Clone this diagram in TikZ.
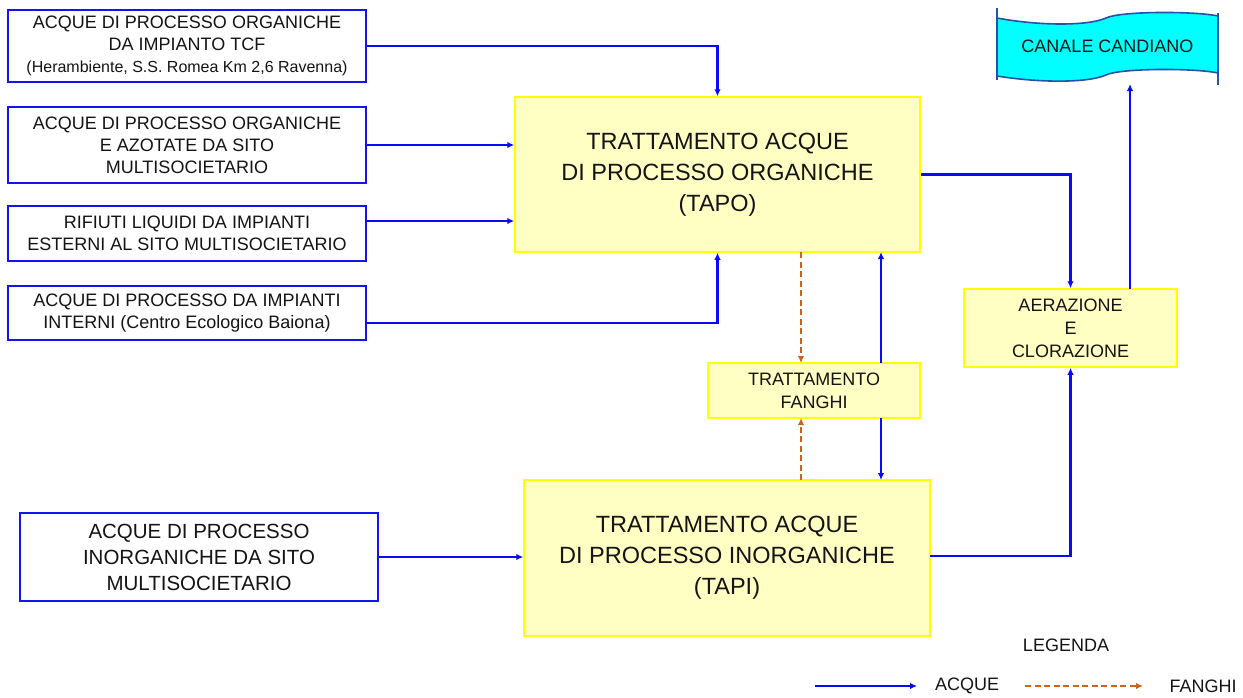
\documentclass[tikz,border=0pt]{standalone}
\usepackage{fontspec}
\setmainfont{Liberation Sans}
\usetikzlibrary{arrows.meta}
\definecolor{boxblue}{RGB}{20,20,240}
\definecolor{flowblue}{RGB}{10,10,250}
\definecolor{yfill}{RGB}{255,255,196}
\definecolor{yline}{RGB}{255,255,0}
\definecolor{sludge}{RGB}{200,100,30}
\definecolor{canalfill}{RGB}{0,255,255}
\definecolor{canalline}{RGB}{40,80,170}
\definecolor{txt}{RGB}{20,20,20}
\tikzset{
  srcbox/.style={draw=boxblue, line width=2.2pt, fill=white, inner sep=0pt, align=center, text=txt,
    font=\fontsize{18}{22}\selectfont},
  procbox/.style={draw=yline, line width=1.5pt, fill=yfill, inner sep=0pt, align=center, text=txt,
    font=\fontsize{18}{23}\selectfont},
  bigbox/.style={procbox, font=\fontsize{23.5}{31}\selectfont},
  water/.style={draw=flowblue, line width=2.3pt, -{Latex[length=7pt,width=6.5pt]}},
  sludgeflow/.style={draw=sludge, line width=2pt, dash pattern=on 6pt off 3.5pt, -{Latex[length=7pt,width=6.5pt]}},
  lbl/.style={text=txt, font=\fontsize{18}{22}\selectfont, inner sep=0pt}
}
\begin{document}
\begin{tikzpicture}[x=1pt,y=-1pt]
\useasboundingbox (0,0) rectangle (1243,697);

% source boxes
\node[srcbox, minimum width=358, minimum height=72] (b1) at (187,46)
  {ACQUE DI PROCESSO ORGANICHE\\DA IMPIANTO TCF\\{\fontsize{16}{20}\selectfont (Herambiente, S.S. Romea Km 2,6 Ravenna)}};
\node[srcbox, minimum width=358, minimum height=76] (b2) at (187,145)
  {ACQUE DI PROCESSO ORGANICHE\\E AZOTATE DA SITO\\MULTISOCIETARIO};
\node[srcbox, minimum width=358, minimum height=55] (b3) at (187,233.5)
  {RIFIUTI LIQUIDI DA IMPIANTI\\ESTERNI AL SITO MULTISOCIETARIO};
\node[srcbox, minimum width=358, minimum height=54] (b4) at (187,313)
  {ACQUE DI PROCESSO DA IMPIANTI\\INTERNI (Centro Ecologico Baiona)};
\node[srcbox, minimum width=358, minimum height=88, font=\fontsize{20.5}{26}\selectfont] (b5) at (199,557)
  {ACQUE DI PROCESSO\\INORGANICHE DA SITO\\MULTISOCIETARIO};

% process boxes
\node[bigbox, minimum width=405, minimum height=155] (tapo) at (717.5,174.5)
  {TRATTAMENTO ACQUE\\DI PROCESSO ORGANICHE\\(TAPO)};
\node[bigbox, minimum width=406, minimum height=156] (tapi) at (727,558)
  {TRATTAMENTO ACQUE\\DI PROCESSO INORGANICHE\\(TAPI)};
\node[procbox, minimum width=212, minimum height=55] (fan) at (814,390.5)
  {TRATTAMENTO\\FANGHI};
\node[procbox, minimum width=213, minimum height=78] (aer) at (1070.5,328)
  {AERAZIONE\\E\\CLORAZIONE};

% canale candiano banner
\fill[canalfill] (997,18) .. controls (1040,26) and (1088,26) .. (1106,18)
  .. controls (1120,11) and (1195,11) .. (1218,16) -- (1218,73)
  .. controls (1195,68) and (1120,68) .. (1106,75)
  .. controls (1088,83) and (1040,83) .. (997,76) -- cycle;
\draw[canalline, line width=1.6pt] (997,8) -- (997,80);
\draw[canalline, line width=1.6pt] (1218,13) -- (1218,85);
\draw[canalline, line width=1.6pt] (997,18) .. controls (1040,26) and (1088,26) .. (1106,18)
  .. controls (1120,11) and (1195,11) .. (1218,16);
\draw[canalline, line width=1.6pt] (997,76) .. controls (1040,83) and (1088,83) .. (1106,75)
  .. controls (1120,68) and (1195,68) .. (1218,73);
\node[lbl] (can) at (1107.5,46) {CANALE CANDIANO};
\coordinate (canb) at (1130,84);

% connectors
\coordinate (b3o) at (b3.east |- 0,221);
\coordinate (b4o) at (b4.east |- 0,323);
\draw[water] (b1.east) -| (tapo.north);
\draw[water] (b2.east) -- (b2.east -| tapo.west);
\draw[water] (b3o) -- (b3o -| tapo.west);
\draw[water] (b4o) -| (tapo.south);
\draw[water] (b5.east) -- (b5.east -| tapi.west);

\coordinate (tapoS1) at (801,252);
\coordinate (fanN1) at (801,363);
\coordinate (tapiN1) at (801,480);
\coordinate (fanS1) at (801,418);
\coordinate (fanN2) at (881,363);
\coordinate (tapoS2) at (881,252);
\coordinate (fanS2) at (881,418);
\coordinate (tapiN2) at (881,480);
\draw[sludgeflow] (tapoS1) -- (fanN1);
\draw[sludgeflow] (tapiN1) -- (fanS1);
\draw[water] (fanN2) -- (tapoS2);
\draw[water] (fanS2) -- (tapiN2);

\draw[water] (tapo.east) -| (aer.north);
\coordinate (tapiE) at (930,556);
\draw[water] (tapiE) -| (aer.south);
\coordinate (aerN) at (1130,289);
\draw[water] (aerN) -- (canb);

% legend
\node[lbl] (leg) at (1066,645) {LEGENDA};
\coordinate (la1) at (815,686);
\coordinate (la2) at (917,686);
\node[lbl] (lacq) at (967,686) {ACQUE};
\coordinate (lf1) at (1025,686);
\coordinate (lf2) at (1143,686);
\node[lbl] (lfan) at (1203,686) {FANGHI};
\draw[water] (la1) -- (la2);
\draw[sludgeflow] (lf1) -- (lf2);
\end{tikzpicture}
\end{document}
